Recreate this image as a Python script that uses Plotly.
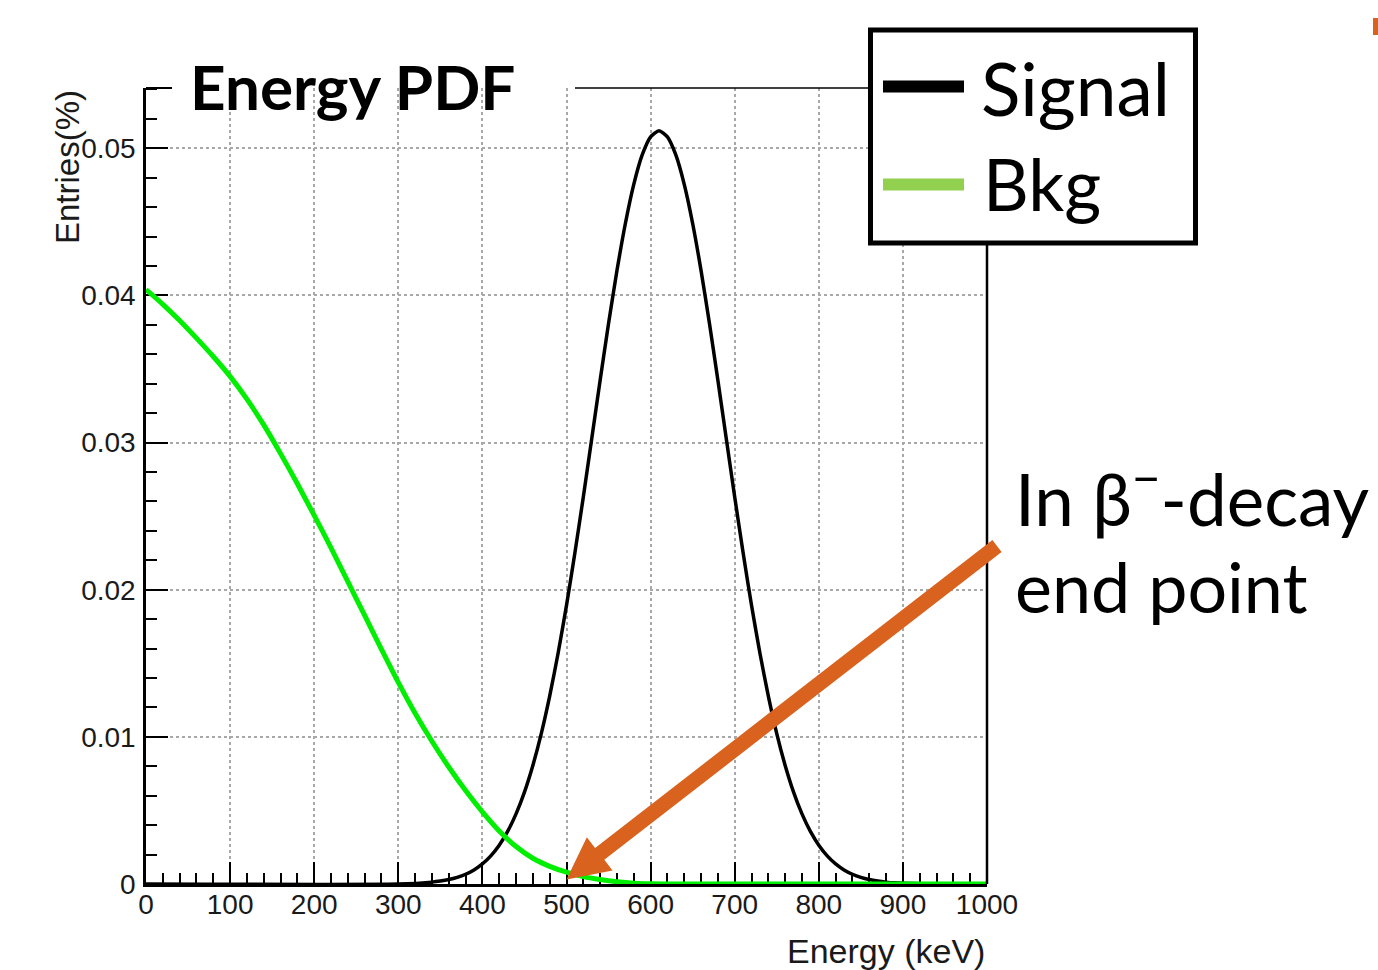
import plotly.graph_objects as go

# Signal PDF: entries (%) versus deposited energy (keV)
sig_energy = [0, 300, 340, 350, 360, 370, 380, 390, 400, 410, 420, 430, 440, 450,
              460, 470, 480, 490, 500, 510, 520, 530, 540, 550, 560, 570, 580,
              590, 600, 610, 620, 630, 640, 650, 660, 670, 680, 690, 700, 710,
              720, 730, 740, 750, 760, 770, 780, 790, 800, 810, 820, 830, 840,
              850, 860, 870, 880, 890, 900, 950, 1000]
sig_entries = [0, 0, 0.000128, 0.000198, 0.000301, 0.00045, 0.000663, 0.000959,
               0.001366, 0.001912, 0.002635, 0.003571, 0.004762, 0.006247,
               0.008059, 0.01022, 0.01277, 0.01568, 0.01894, 0.02251, 0.02631,
               0.03026, 0.03423, 0.03809, 0.04169, 0.04489, 0.04755, 0.04955,
               0.05078, 0.0512, 0.05078, 0.04955, 0.04755, 0.04489, 0.04169,
               0.03809, 0.03423, 0.03026, 0.02631, 0.02251, 0.01894, 0.01568,
               0.01277, 0.01022, 0.008059, 0.006247, 0.004762, 0.003571,
               0.002635, 0.001912, 0.001366, 0.000959, 0.000663, 0.00045,
               0.000301, 0.000198, 0.000128, 0.00008, 0.00005, 0, 0]

# Background PDF (beta spectrum)
bkg_energy = [0, 20, 40, 60, 80, 100, 120, 140, 160, 180, 200, 220, 240, 260,
              280, 300, 320, 340, 360, 380, 400, 420, 440, 460, 480, 500, 520,
              540, 560, 580, 600, 620, 700, 800, 900, 1000]
bkg_entries = [0.0404, 0.0394, 0.0383, 0.0371, 0.03585, 0.0345, 0.03295, 0.0312,
               0.02925, 0.0272, 0.02505, 0.02285, 0.02055, 0.01825, 0.01595,
               0.0137, 0.0116, 0.0097, 0.00795, 0.00635, 0.0049, 0.0036,
               0.00255, 0.00175, 0.0012, 0.0008, 0.0005, 0.0003, 0.00015,
               0.00005, 0.00001, 0, 0, 0, 0, 0]

x_tick_vals = [0, 100, 200, 300, 400, 500, 600, 700, 800, 900, 1000]
x_tick_text = ["0", "100", "200", "300", "400", "500", "600", "700", "800",
               "900", "1000"]
y_tick_vals = [0, 0.01, 0.02, 0.03, 0.04, 0.05]
y_tick_text = ["0", "0.01", "0.02", "0.03", "0.04", "0.05"]

endpoint_kev = 500
endpoint_entries = 0.0003

# Canvas geometry (pixels)
W, H = 1378, 970
L, R, T, B = 146, 391, 88, 86
PW, PH = W - L - R, H - T - B
X_MAX, Y_MAX = 1000, 0.0541


def pxx(x):
    return (x - L) / PW


def pxy(y):
    return (H - B - y) / PH


def data_to_px(xv, yv):
    return L + xv / X_MAX * PW, H - B - yv / Y_MAX * PH


AXIS_FONT = "Liberation Sans, Arial, sans-serif"
TEXT_FONT = "Lato, Open Sans, sans-serif"
ORANGE = "#D9631E"

fig = go.Figure()
fig.add_trace(go.Scatter(x=sig_energy, y=sig_entries, mode="lines", name="Signal",
                         line=dict(color="black", width=3.5, shape="spline",
                                   smoothing=0.6)))
fig.add_trace(go.Scatter(x=bkg_energy, y=bkg_entries, mode="lines", name="Bkg",
                         line=dict(color="#00ee00", width=5, shape="spline",
                                   smoothing=0.8)))

common_axis = dict(showline=True, linecolor="black", linewidth=2.5, mirror=False,
                   ticks="inside", tickcolor="black", tickwidth=2, ticklen=22,
                   showgrid=True, gridcolor="#a8a8a8", gridwidth=1.5,
                   griddash="dot", zeroline=False, layer="below traces",
                   tickfont=dict(family=AXIS_FONT, size=28, color="#1a1a1a"))

fig.update_xaxes(range=[0, X_MAX], tickmode="array", tickvals=x_tick_vals,
                 ticktext=x_tick_text, ticklabelstandoff=-6,
                 minor=dict(ticks="inside", ticklen=11, tickwidth=1.5,
                            tickcolor="black", dtick=20, tick0=0, showgrid=False),
                 **common_axis)
fig.update_yaxes(range=[0, Y_MAX], tickmode="array", tickvals=y_tick_vals,
                 ticktext=y_tick_text, ticklabelstandoff=2,
                 minor=dict(ticks="inside", ticklen=11, tickwidth=1.5,
                            tickcolor="black", dtick=0.002, tick0=0,
                            showgrid=False),
                 **common_axis)

shapes = []
# frame: top (split around the title and legend) and right side
shapes.append(dict(type="line", xref="paper", yref="paper", x0=0, x1=pxx(172),
                   y0=1, y1=1, line=dict(color="black", width=2)))
shapes.append(dict(type="line", xref="paper", yref="paper", x0=pxx(575),
                   x1=pxx(870), y0=1, y1=1, line=dict(color="black", width=1.5)))
shapes.append(dict(type="line", xref="paper", yref="paper", x0=1, x1=1,
                   y0=0, y1=pxy(243), line=dict(color="black", width=2.5)))

# legend box
shapes.append(dict(type="rect", xref="paper", yref="paper", x0=pxx(870.5),
                   x1=pxx(1195.5), y0=pxy(243), y1=pxy(30),
                   line=dict(color="black", width=5), fillcolor="white"))
shapes.append(dict(type="line", xref="paper", yref="paper", x0=pxx(883),
                   x1=pxx(964), y0=pxy(86.5), y1=pxy(86.5),
                   line=dict(color="black", width=12)))
shapes.append(dict(type="line", xref="paper", yref="paper", x0=pxx(883),
                   x1=pxx(964), y0=pxy(184.5), y1=pxy(184.5),
                   line=dict(color="#92D050", width=12)))

# arrow towards the beta-decay end point
tip_x, tip_y = data_to_px(endpoint_kev, endpoint_entries)
tail_x, tail_y = 997, 546
dx, dy = tail_x - tip_x, tail_y - tip_y
length = (dx ** 2 + dy ** 2) ** 0.5
ux, uy = dx / length, dy / length
nx, ny = -uy, ux
head_len, head_hw, shaft_hw = 42, 21, 7.5


def pt(a, b):
    x = tip_x + a * ux + b * nx
    y = tip_y + a * uy + b * ny
    return f"{pxx(x):.5f},{pxy(y):.5f}"


arrow_path = ("M " + pt(0, 0) + " L " + pt(head_len, head_hw) + " L "
              + pt(head_len, shaft_hw) + " L " + pt(length, shaft_hw) + " L "
              + pt(length, -shaft_hw) + " L " + pt(head_len, -shaft_hw) + " L "
              + pt(head_len, -head_hw) + " Z")
shapes.append(dict(type="path", xref="paper", yref="paper", path=arrow_path,
                   fillcolor=ORANGE, line=dict(color=ORANGE, width=0)))

# small orange mark at the top-right corner
shapes.append(dict(type="rect", xref="paper", yref="paper", x0=pxx(1373),
                   x1=pxx(1379), y0=pxy(35), y1=pxy(18), fillcolor=ORANGE,
                   line=dict(width=0)))

annotations = [
    dict(text="<b>Energy PDF</b>", xref="paper", yref="paper", x=pxx(188),
         y=pxy(86), xanchor="left", yanchor="middle", showarrow=False,
         font=dict(family=TEXT_FONT, size=62, color="black")),
    dict(text="Signal", xref="paper", yref="paper", x=pxx(979), y=pxy(88),
         xanchor="left", yanchor="middle", showarrow=False,
         font=dict(family=TEXT_FONT, size=73, color="black")),
    dict(text="Bkg", xref="paper", yref="paper", x=pxx(981), y=pxy(183),
         xanchor="left", yanchor="middle", showarrow=False,
         font=dict(family=TEXT_FONT, size=71, color="black")),
    dict(text="In β<sup>−</sup>-decay", xref="paper", yref="paper", x=pxx(1013),
         y=pxy(494), xanchor="left", yanchor="middle", showarrow=False,
         font=dict(family=TEXT_FONT, size=71, color="black")),
    dict(text="end point", xref="paper", yref="paper", x=pxx(1013), y=pxy(586),
         xanchor="left", yanchor="middle", showarrow=False,
         font=dict(family=TEXT_FONT, size=70, color="black")),
    dict(text="Energy (keV)", xref="paper", yref="paper", x=pxx(987),
         y=pxy(951), xanchor="right", yanchor="middle", showarrow=False,
         font=dict(family=AXIS_FONT, size=34, color="#1a1a1a")),
    dict(text="Entries(%)", xref="paper", yref="paper", x=pxx(67), y=1,
         xanchor="center", yanchor="top", textangle=-90, showarrow=False,
         font=dict(family=AXIS_FONT, size=33, color="#1a1a1a")),
]

fig.update_layout(width=W, height=H, autosize=False,
                  margin=dict(l=L, r=R, t=T, b=B),
                  paper_bgcolor="white", plot_bgcolor="white",
                  showlegend=False, shapes=shapes, annotations=annotations)

fig.write_html("out.html")
